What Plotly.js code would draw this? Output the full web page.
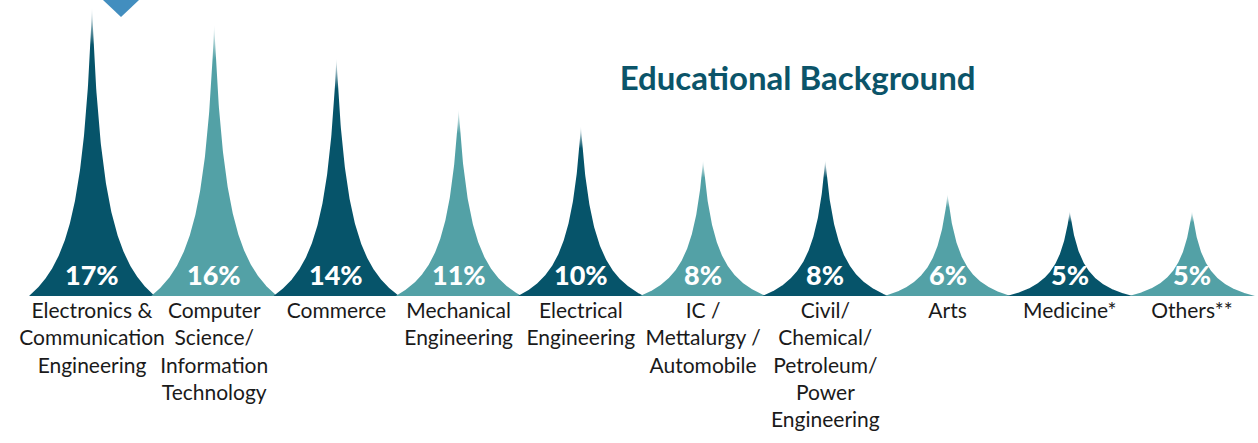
<!DOCTYPE html>
<html>
<head>
<meta charset="utf-8">
<script src="https://cdn.plot.ly/plotly-3.0.1.min.js"></script>
<style>html,body{margin:0;padding:0;background:#fff;}#chart{width:1258px;height:443px;}</style>
</head>
<body>
<div id="chart"></div>
<script>
const categories = [
  "Electronics &<br>Communication<br>Engineering",
  "Computer<br>Science/<br>Information<br>Technology",
  "Commerce",
  "Mechanical<br>Engineering",
  "Electrical<br>Engineering",
  "IC /<br>Mettalurgy /<br>Automobile",
  "Civil/<br>Chemical/<br>Petroleum/<br>Power<br>Engineering",
  "Arts",
  "Medicine*",
  "Others**"
];
const values = [17, 16, 14, 11, 10, 8, 8, 6, 5, 5];
const valueLabels = ["17%", "16%", "14%", "11%", "10%", "8%", "8%", "6%", "5%", "5%"];
const chartTitle = "Educational Background";

const DARK = "#06546a";
const LIGHT = "#53a1a6";
const HALF_W = 0.515;   // half base width in category units
const B = 0.1146;       // curve sharpness in category units
const N = 240;

// concave spike profile: f(d) = a/(d+B) - c, f(0)=1, f(HALF_W)=0
const A = 1 / (1 / B - 1 / (HALF_W + B));
const C = A / (HALF_W + B);
function profile(d) { return Math.max(0, A / (d + B) - C); }

const traces = values.map((v, i) => {
  const xs = [], ys = [];
  for (let k = 0; k <= 2 * N; k++) {
    const t = -1 + k / N;
    const d = Math.abs(t) * HALF_W;
    xs.push(i + t * HALF_W);
    ys.push(v * profile(d));
  }
  const c = i % 2 === 0 ? DARK : LIGHT;
  return {
    type: "scatter", mode: "lines", x: xs, y: ys,
    fill: "toself", line: {width: 0, color: c},
    fillcolor: c,
    fillgradient: {type: "vertical", colorscale: [[0, c], [0.87, c], [1, "#ffffff"]]},
    hoverinfo: "skip", showlegend: false
  };
});

const annotations = values.map((v, i) => ({
  x: i, y: 0, xref: "x", yref: "y",
  text: valueLabels[i], showarrow: false,
  yanchor: "middle", yshift: 22,
  font: {family: "Lato", size: 27, color: "#ffffff", weight: 900}
}));

const layout = {
  width: 1258, height: 443,
  margin: {l: 0, r: 0, t: 0, b: 147, pad: 0},
  paper_bgcolor: "#ffffff", plot_bgcolor: "#ffffff",
  title: {
    text: chartTitle, x: 0.634, xanchor: "center", y: 0.824, yanchor: "middle",
    font: {family: "Lato", size: 33, color: "#0b5469", weight: 700}
  },
  xaxis: {
    range: [-0.7527, 9.54], showgrid: false, zeroline: false, showline: false,
    tickmode: "array", tickvals: categories.map((_, i) => i), ticktext: categories,
    ticks: "", tickfont: {family: "Lato", size: 21, color: "#1a1a1a"},
    tickangle: 0, fixedrange: true
  },
  yaxis: {
    range: [0, 17.41], showgrid: false, zeroline: false, showline: false,
    showticklabels: false, ticks: "", fixedrange: true
  },
  shapes: [{
    type: "path", xref: "paper", yref: "paper",
    path: "M 0.0819,1.0 L 0.1105,1.0 L 0.0962,0.9426 Z",
    fillcolor: "#428ebf", line: {width: 0}
  }],
  annotations: annotations
};

Plotly.newPlot("chart", traces, layout, {displayModeBar: false, staticPlot: true});
</script>
</body>
</html>
